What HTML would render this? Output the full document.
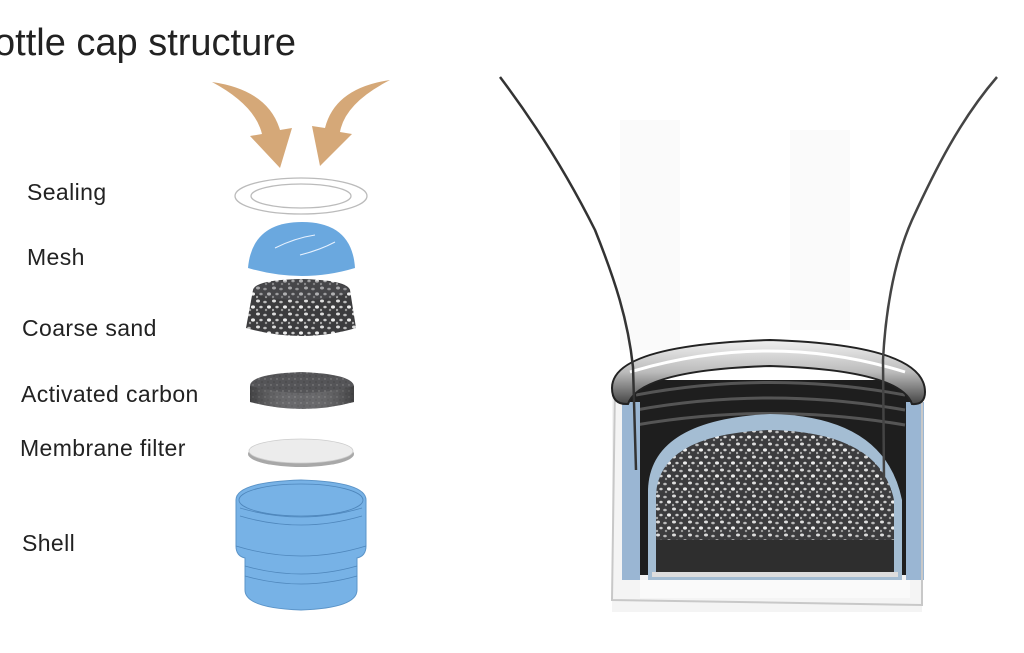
<!DOCTYPE html>
<html><head><meta charset="utf-8"><style>
body{margin:0;background:#fff;width:1024px;height:648px;overflow:hidden;font-family:"Liberation Sans",sans-serif}
</style></head><body>
<svg width="1024" height="648" viewBox="0 0 1024 648" xmlns="http://www.w3.org/2000/svg">
<defs>
<pattern id="sand" width="16" height="13" patternUnits="userSpaceOnUse">
<rect width="16" height="13" fill="#3c3c3e"/>
<ellipse cx="2" cy="2" rx="2" ry="1.5" fill="#ddd"/><ellipse cx="9" cy="3" rx="1.8" ry="1.3" fill="#bbb"/><ellipse cx="13" cy="8" rx="2" ry="1.6" fill="#eee"/>
<ellipse cx="5" cy="8" rx="1.7" ry="1.3" fill="#ccc"/><circle cx="10" cy="11" r="1.2" fill="#999"/><circle cx="1" cy="11" r="1.2" fill="#aaa"/>
</pattern>
<pattern id="carb" width="6" height="6" patternUnits="userSpaceOnUse">
<rect width="6" height="6" fill="#555558"/><circle cx="1" cy="1" r="0.7" fill="#888"/><circle cx="4" cy="4" r="0.6" fill="#3a3a3a"/>
</pattern>
<linearGradient id="carbG" x1="0" x2="1"><stop offset="0" stop-color="#222" stop-opacity=".4"/><stop offset=".5" stop-color="#fff" stop-opacity=".1"/><stop offset="1" stop-color="#222" stop-opacity=".4"/></linearGradient>
<linearGradient id="rim" x1="0" y1="0" x2="0" y2="1"><stop offset="0" stop-color="#f0f0f0"/><stop offset=".5" stop-color="#bbb"/><stop offset="1" stop-color="#444"/></linearGradient>
</defs>
<text x="-6" y="55" font-size="38" fill="#222">ottle cap structure</text>
<g font-size="23" fill="#222" letter-spacing="0.4">
<text x="27" y="200">Sealing</text>
<text x="27" y="265">Mesh</text>
<text x="22" y="336">Coarse sand</text>
<text x="21" y="402">Activated carbon</text>
<text x="20" y="456">Membrane filter</text>
<text x="22" y="551">Shell</text>
</g>
<path d="M212,82 Q268,90 280,130 L292,128 L280,168 L250,136 L262,134 Q255,105 212,82Z" fill="#d5a878"/>
<path d="M390,80 Q335,88 325,128 L312,126 L320,166 L352,134 L340,132 Q345,103 390,80Z" fill="#d5a878"/>
<ellipse cx="301" cy="196" rx="66" ry="18" fill="none" stroke="#bbb" stroke-width="1.3"/>
<ellipse cx="301" cy="196" rx="50" ry="12" fill="none" stroke="#bbb" stroke-width="1.3"/>
<path d="M248,268 Q252,222 302,222 Q352,222 355,268 Q302,284 248,268Z" fill="#6aa8df"/>
<path d="M275,248 Q295,238 315,235 M300,255 Q320,250 335,242" stroke="#e8f2ff" stroke-width="1" fill="none"/>
<path d="M253,290 Q255,280 301,279 Q347,280 350,290 L356,328 Q302,344 246,328Z" fill="url(#sand)"/>
<ellipse cx="301" cy="290" rx="48" ry="10" fill="#55555a" opacity=".4"/>
<path d="M250,386 Q250,374 301,372 Q352,374 354,386 L354,402 Q302,416 250,402Z" fill="url(#carb)"/>
<path d="M250,386 Q302,400 354,386 L354,402 Q302,416 250,402Z" fill="url(#carbG)"/>
<ellipse cx="301" cy="454" rx="53" ry="13" fill="#a8a8a8"/>
<ellipse cx="301" cy="451" rx="52" ry="12" fill="#ececec" stroke="#ccc" stroke-width=".8"/>
<path d="M236,500 Q236,482 301,480 Q366,482 366,500 L366,546 Q366,556 357,558 L357,590 Q357,608 301,610 Q245,608 245,590 L245,558 Q236,556 236,546Z" fill="#77b2e6" stroke="#5b94c8" stroke-width="1"/>
<g fill="none" stroke="#4e86bb" stroke-width=".8">
<ellipse cx="301" cy="500" rx="62" ry="16"/><path d="M240,508 Q301,526 362,508 M240,516 Q301,534 362,516 M236,546 Q301,566 366,546 M245,566 Q301,582 357,566 M245,576 Q301,592 357,576"/>
</g>
<rect x="620" y="120" width="60" height="230" fill="#fafafa"/><rect x="790" y="130" width="60" height="200" fill="#fafafa"/>
<rect x="612" y="380" width="310" height="232" fill="#f4f4f4"/>
<rect x="630" y="380" width="282" height="195" fill="#1e1e1e"/>
<path d="M636,395 Q770,370 905,395 M636,410 Q770,386 905,410 M636,425 Q770,402 905,425" stroke="#555" stroke-width="3" fill="none"/>
<path d="M622,402 L640,402 L640,580 L622,580Z M906,402 L924,402 L924,580 L906,580Z" fill="#9ab6d3"/>
<path d="M648,490 Q650,420 770,414 Q885,416 902,500 L902,580 L648,580Z" fill="#a4bdd3"/>
<path d="M656,494 Q660,434 770,430 Q880,432 894,500 L894,570 L656,570Z" fill="url(#sand)"/>
<rect x="656" y="540" width="238" height="32" fill="#2e2e2e"/>
<rect x="652" y="572" width="246" height="5" fill="#ddd"/>
<rect x="640" y="580" width="270" height="18" fill="#fafafa"/>
<path d="M615,385 L612,600 L922,605 L922,390" fill="none" stroke="#c8c8c8" stroke-width="2"/>
<path d="M612,388 Q612,345 770,340 Q925,345 925,392 Q925,405 912,404 Q900,370 770,366 Q640,370 628,404 Q612,405 612,388Z" fill="url(#rim)" stroke="#222" stroke-width="2"/>
<path d="M630,372 Q770,330 905,372" stroke="#fff" stroke-width="3" fill="none"/>
<path d="M500,77 C540,130 570,180 595,230 C615,280 628,320 633,367 L636,470" fill="none" stroke="#333" stroke-width="2.5"/>
<path d="M997,77 C960,120 935,170 912,220 C892,265 885,320 883,360 L884,480" fill="none" stroke="#444" stroke-width="2.5"/>
</svg>
</body></html>
